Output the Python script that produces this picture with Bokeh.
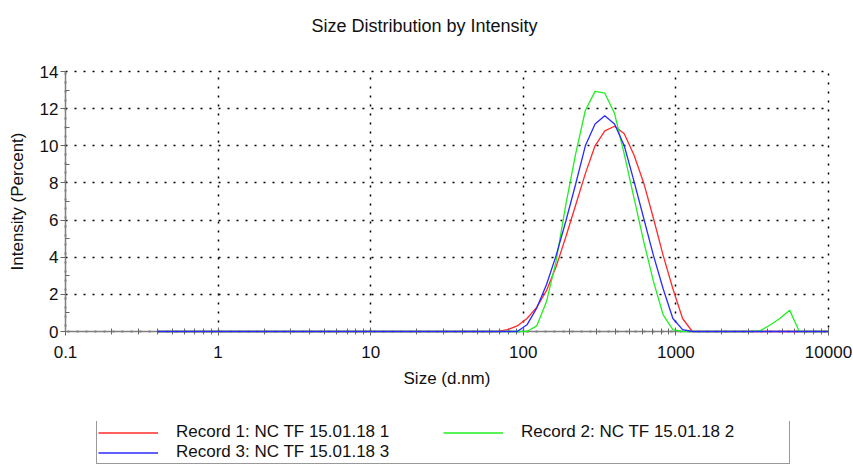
from bokeh.plotting import figure
from bokeh.layouts import column
from bokeh.models import (FixedTicker, CustomJSTickFormatter, Title, Legend, LegendItem,
                          Range1d, ColumnDataSource)
from bokeh.embed import file_html
from bokeh.resources import INLINE

# Size classes (d.nm)
sizes = [0.4, 0.4632, 0.5365, 0.6213, 0.7195, 0.8332, 0.9649, 1.117, 1.294, 1.499,
         1.736, 2.01, 2.328, 2.696, 3.122, 3.615, 4.187, 4.849, 5.615, 6.503,
         7.531, 8.721, 10.1, 11.7, 13.54, 15.69, 18.17, 21.04, 24.36, 28.21,
         32.67, 37.84, 43.82, 50.75, 58.77, 68.06, 78.82, 91.28, 105.7, 122.4,
         141.8, 164.2, 190.1, 220.2, 255.0, 295.3, 342.0, 396.1, 458.7, 531.2,
         615.1, 712.4, 825.0, 955.4, 1106, 1281, 1484, 1718, 1990, 2305,
         2669, 3091, 3580, 4145, 4801, 5560, 6439, 7456, 8635, 10000]

# Intensity (%)
record1 = [0, 0, 0, 0, 0, 0, 0, 0, 0, 0,
           0, 0, 0, 0, 0, 0, 0, 0, 0, 0,
           0, 0, 0, 0, 0, 0, 0, 0, 0, 0,
           0, 0, 0, 0, 0, 0, 0.1, 0.3, 0.7, 1.3,
           2.2, 3.5, 5.1, 6.8, 8.5, 10.0, 10.8, 11.05, 10.65, 9.5,
           8.0, 6.1, 4.1, 2.3, 0.7, 0, 0, 0, 0, 0,
           0, 0, 0, 0, 0, 0, 0, 0, 0, 0]

record2 = [0, 0, 0, 0, 0, 0, 0, 0, 0, 0,
           0, 0, 0, 0, 0, 0, 0, 0, 0, 0,
           0, 0, 0, 0, 0, 0, 0, 0, 0, 0,
           0, 0, 0, 0, 0, 0, 0, 0, 0, 0.3,
           1.6, 3.8, 6.85, 9.55, 11.9, 12.93, 12.83, 11.75, 9.55, 7.2,
           4.85, 2.7, 0.9, 0.1, 0, 0, 0, 0, 0, 0,
           0, 0, 0.05, 0.35, 0.7, 1.15, 0, 0, 0, 0]

record3 = [0, 0, 0, 0, 0, 0, 0, 0, 0, 0,
           0, 0, 0, 0, 0, 0, 0, 0, 0, 0,
           0, 0, 0, 0, 0, 0, 0, 0, 0, 0,
           0, 0, 0, 0, 0, 0, 0, 0, 0.36, 1.26,
           2.52, 4.1, 5.95, 7.93, 10.0, 11.17, 11.62, 11.17, 10.0, 8.1,
           6.1, 4.1, 2.3, 0.7, 0.1, 0, 0, 0, 0, 0,
           0, 0, 0, 0, 0, 0, 0, 0, 0, 0]

series_names = ["Record 1: NC TF 15.01.18 1",
                "Record 2: NC TF 15.01.18 2",
                "Record 3: NC TF 15.01.18 3"]
series_cols = ["r1", "r2", "r3"]
series_colors = ["#ff2a2a", "#22ee22", "#2a2aff"]

x_ticks = [0.1, 1, 10, 100, 1000, 10000]
x_minor = [m * d for d in [0.1, 1, 10, 100, 1000] for m in range(2, 10)]
y_ticks = [0, 2, 4, 6, 8, 10, 12, 14]
y_minor = [1, 3, 5, 7, 9, 11, 13]

FONT = "Liberation Sans"

source = ColumnDataSource(dict(size=sizes, r1=record1, r2=record2, r3=record3))

p = figure(width=853, height=421, x_axis_type="log",
           x_range=Range1d(0.1, 10000), y_range=Range1d(0, 14),
           output_backend="svg", toolbar_location=None,
           min_border_left=65, min_border_right=25, min_border_top=71, min_border_bottom=90)
p.title.text = ""
p.background_fill_color = "white"
p.border_fill_color = "white"
# dotted frame (top / right edges show as dotted borders)
p.outline_line_color = "#000000"
p.outline_line_width = 1.5
p.outline_line_dash = "2 7"

# title (spacer first, closest to the frame)
p.add_layout(Title(text=" ", text_font_size="10px", standoff=18), "above")
p.add_layout(Title(text="Size Distribution by Intensity", align="left", offset=246,
                   text_font=FONT, text_font_size="18px", text_font_style="normal",
                   text_color="#111111", standoff=10), "above")

for col, color in zip(series_cols, series_colors):
    r = p.line("size", col, source=source, line_color=color, line_width=1.3)
    r.level = "overlay"

for ax, ticks, minor in [(p.xaxis[0], x_ticks, x_minor), (p.yaxis[0], y_ticks, y_minor)]:
    ax.ticker = FixedTicker(ticks=ticks, minor_ticks=minor)
    ax.axis_line_color = "#808080"
    ax.axis_line_width = 1.5
    ax.major_tick_line_color = "#666666"
    ax.minor_tick_line_color = "#666666"
    ax.major_label_text_font = FONT
    ax.major_label_text_font_size = "17px"
    ax.major_label_text_color = "#111111"
    ax.axis_label_text_font = FONT
    ax.axis_label_text_font_size = "17px"
    ax.axis_label_text_font_style = "normal"
    ax.axis_label_text_color = "#111111"

p.xaxis.formatter = CustomJSTickFormatter(code="return String(tick)")
p.xaxis.axis_label = "Size (d.nm)"
p.xaxis.major_tick_in = 4
p.xaxis.major_tick_out = 4
p.xaxis.minor_tick_in = 3
p.xaxis.minor_tick_out = 3
p.xaxis.major_label_standoff = 10
p.xaxis.axis_label_standoff = 8

p.yaxis.axis_label = "Intensity (Percent)"
p.yaxis.major_tick_in = 0
p.yaxis.major_tick_out = 5
p.yaxis.minor_tick_in = 4
p.yaxis.minor_tick_out = 0
p.yaxis.major_label_standoff = 2
p.yaxis.axis_label_standoff = 10

for g in (p.xgrid[0], p.ygrid[0]):
    g.grid_line_color = "#000000"
    g.grid_line_width = 1.5
    g.grid_line_dash = "2 7"
p.xgrid.ticker = FixedTicker(ticks=x_ticks)
p.ygrid.ticker = FixedTicker(ticks=y_ticks)

# legend strip below the chart (its series lie outside its own empty view)
pl = figure(width=853, height=43, x_range=Range1d(-2, -1), y_range=Range1d(-2, -1),
            output_backend="svg", toolbar_location=None,
            x_axis_location=None, y_axis_location=None,
            min_border=0, min_border_left=0, min_border_right=0,
            min_border_top=0, min_border_bottom=0)
pl.title.text = ""
pl.outline_line_color = None
pl.xgrid.visible = False
pl.ygrid.visible = False
leg_renderers = [pl.line("size", col, source=source, line_color=c, line_width=1.3)
                 for col, c in zip(series_cols, series_colors)]

items = [LegendItem(label=n, renderers=[r]) for n, r in zip(series_names, leg_renderers)]
legend = Legend(items=items, orientation="horizontal", ncols=2,
                location=(31, 0), margin=0, padding=1, spacing=0,
                glyph_width=60, glyph_height=17, label_standoff=18,
                label_width=267, label_height=17,
                label_text_font=FONT, label_text_font_size="17px",
                label_text_color="#111111",
                border_line_color="#333333", border_line_width=1,
                background_fill_color="white", background_fill_alpha=1.0)
pl.add_layout(legend)

layout = column(p, pl, spacing=0)
open("out.html", "w").write(file_html(layout, INLINE))
